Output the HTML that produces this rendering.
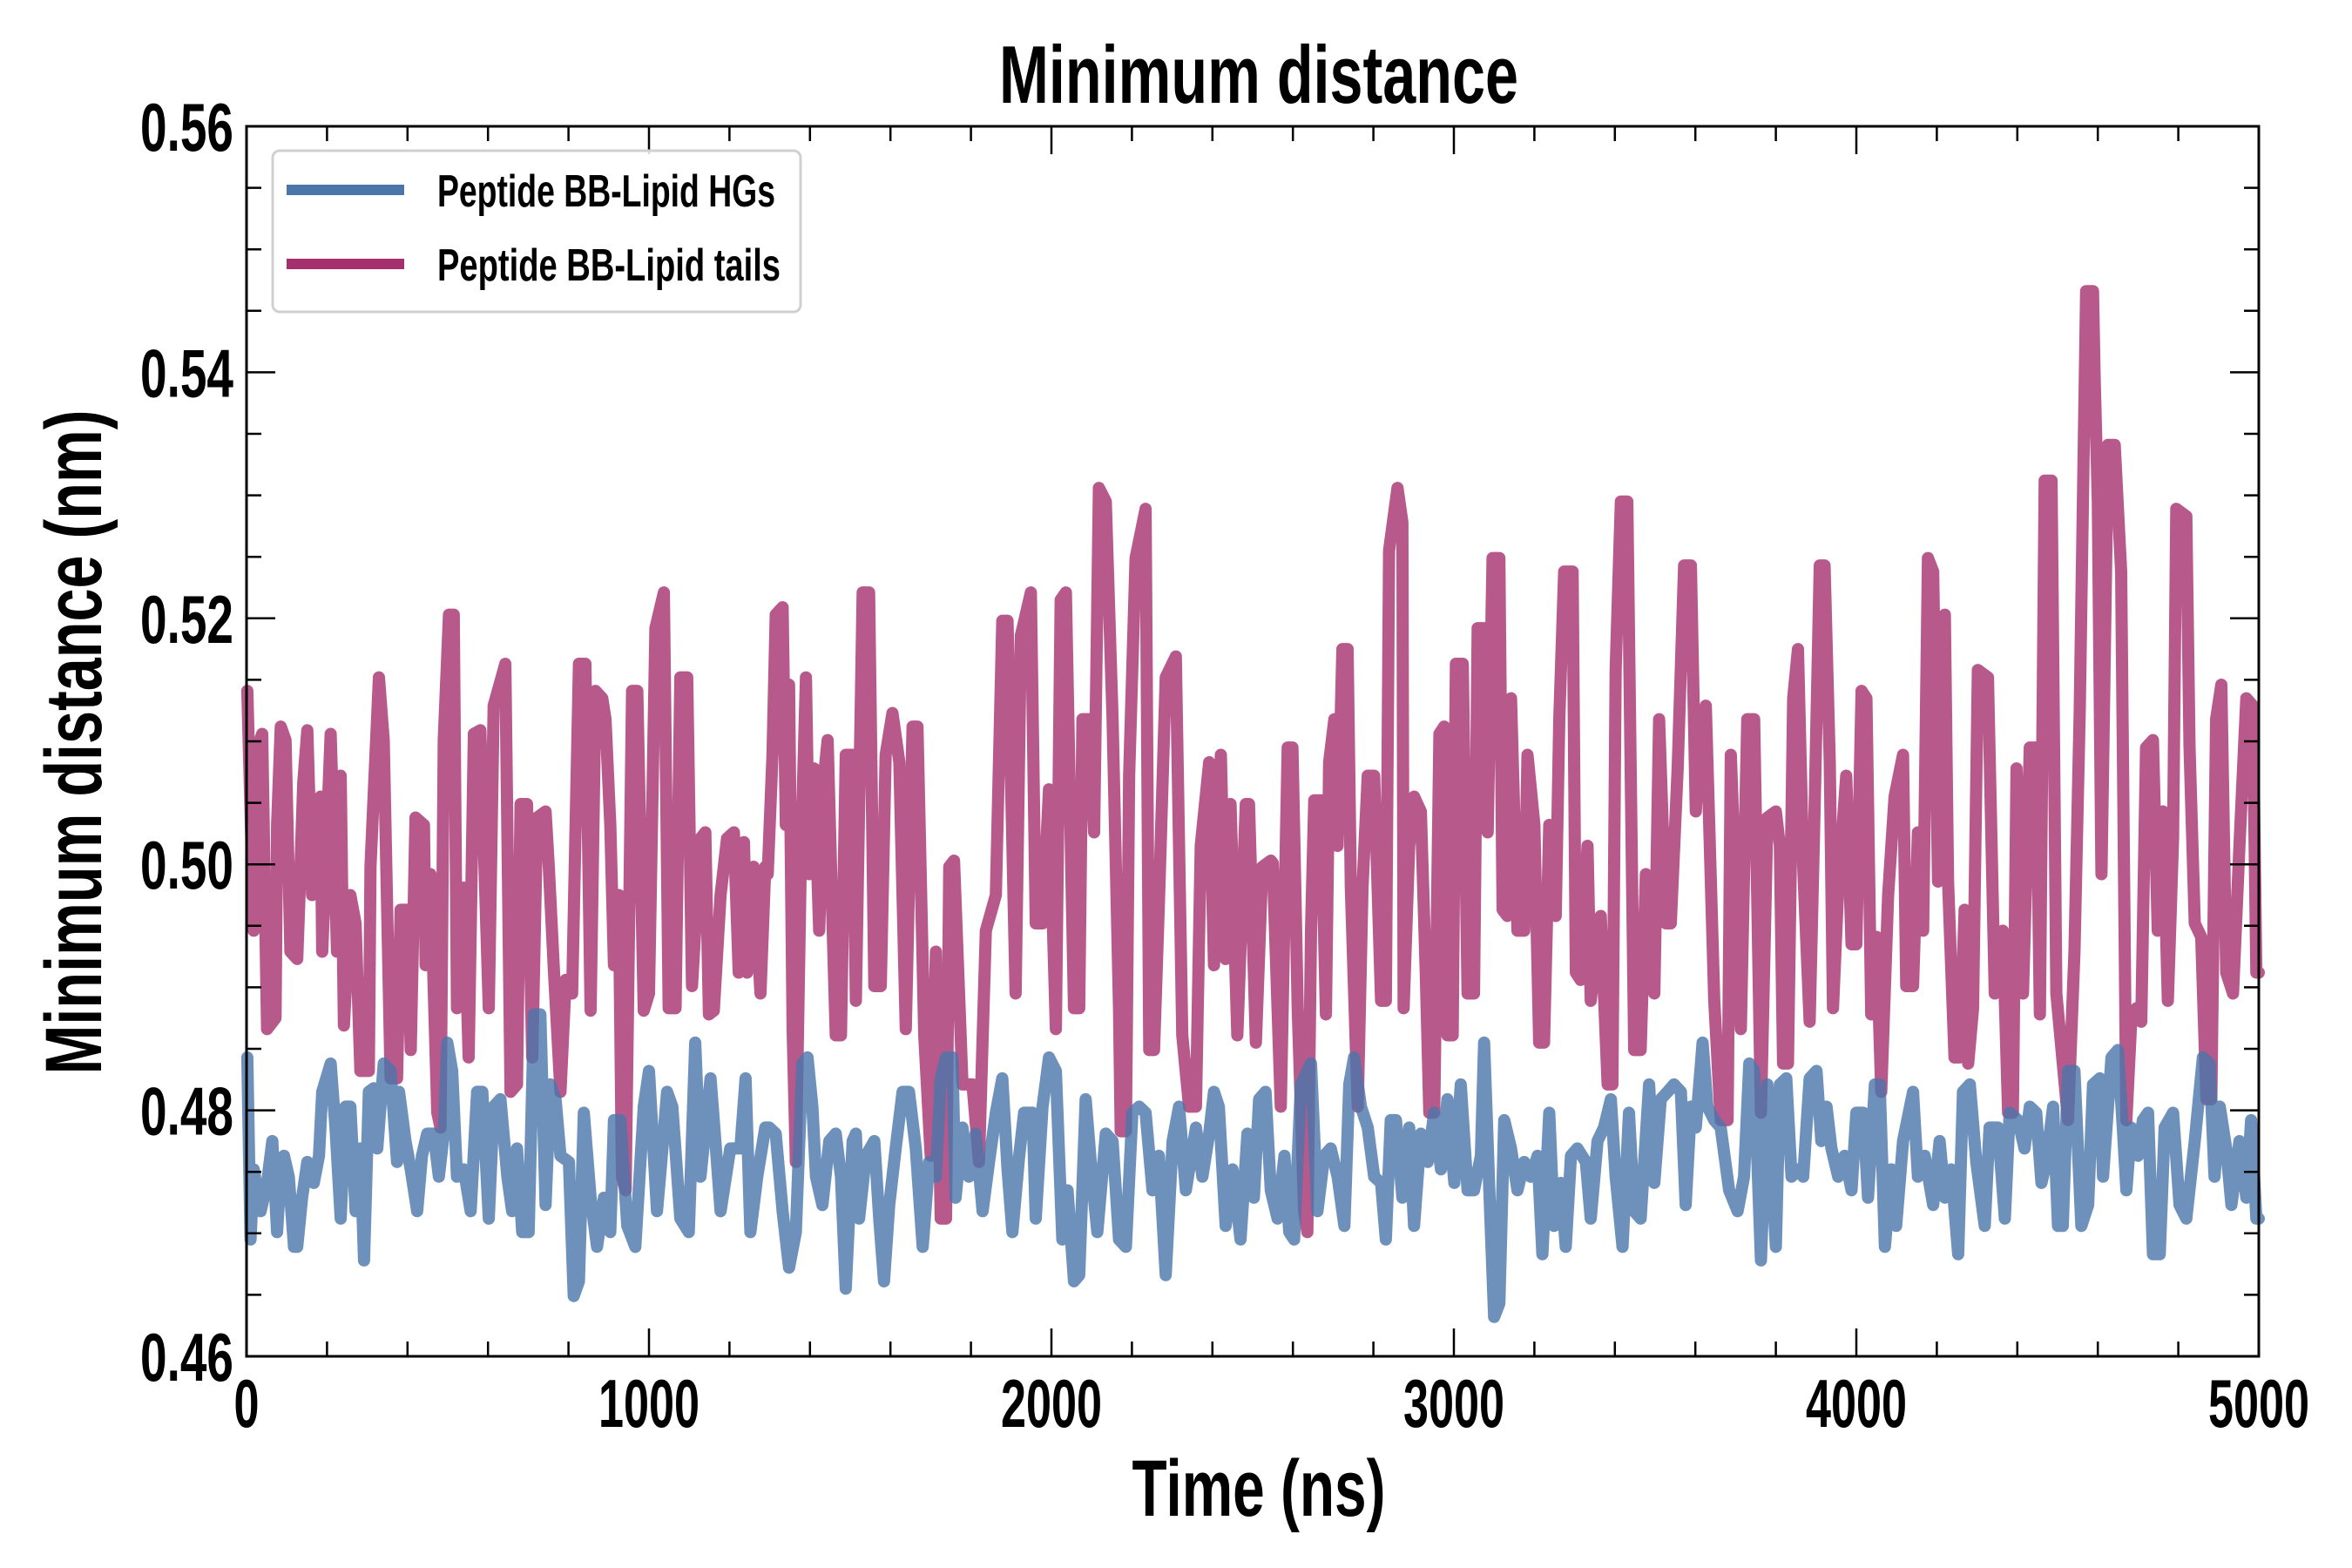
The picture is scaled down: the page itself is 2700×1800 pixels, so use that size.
<!DOCTYPE html>
<html><head><meta charset="utf-8">
<style>
html,body{margin:0;padding:0;background:#fff;}
svg{display:block;}
text{font-family:"Liberation Sans Narrow","Liberation Sans",sans-serif;font-weight:bold;fill:#000;}
</style></head>
<body>
<svg id="chart" xmlns="http://www.w3.org/2000/svg" width="2700" height="1800" viewBox="0 0 2700 1800">
<rect x="0" y="0" width="2700" height="1800" fill="#fff"/>
<g id="series"></g>
<g id="ticks"></g>
<rect x="283" y="145" width="2310" height="1412" fill="none" stroke="#000" stroke-width="3"/>
<text x="1445" y="118" font-size="94" text-anchor="middle" textLength="596" lengthAdjust="spacingAndGlyphs">Minimum distance</text>
<text x="1445" y="1740" font-size="92" text-anchor="middle" textLength="291" lengthAdjust="spacingAndGlyphs">Time (ns)</text>
<text transform="translate(116,852) rotate(-90)" font-size="92" text-anchor="middle" textLength="763" lengthAdjust="spacingAndGlyphs">Minimum distance (nm)</text>
<g>
<rect x="313" y="173" width="606" height="185" rx="8" fill="#fff" fill-opacity="0.85" stroke="#d0d0d0" stroke-width="3"/>
<line x1="329" y1="218" x2="464" y2="218" stroke="#4a76aa" stroke-width="12"/>
<line x1="329" y1="303" x2="464" y2="303" stroke="#a6306f" stroke-width="12"/>
<text x="502" y="237" font-size="52" textLength="388" lengthAdjust="spacingAndGlyphs">Peptide BB-Lipid HGs</text>
<text x="502" y="322" font-size="52" textLength="394" lengthAdjust="spacingAndGlyphs">Peptide BB-Lipid tails</text>
</g>
</svg>
<script>
const tailsTime=[2,18,27,39,51,72,76,85,97,109,126,133,141,151,163,184,188,209,225,234,242,258,271,283,304,308,329,341,358,374,383,399,408,420,441,445,457,474,482,490,503,515,523,540,552,565,581,602,614,643,656,672,681,697,710,722,743,751,764,780,793,809,826,842,855,867,884,892,904,913,925,933,942,958,971,987,1000,1016,1037,1049,1066,1078,1095,1107,1128,1140,1149,1161,1178,1194,1211,1223,1236,1244,1260,1277,1289,
1295,1307,1315,1332,1340,1348,1357,1365,1377,1390,1398,1410,1423,1435,1444,1456,1464,1477,1489,1506,1514,1531,1547,1560,1576,1588,1605,1622,1638,1655,1667,1684,1700,1713,1725,1738,1746,1758,1779,1804,1820,1837,1862,1878,1891,1911,1924,1949,1961,1978,1994,2011,2023,2036,2056,2069,2077,2094,2106,2118,2135,2152,2168,2172,2185,2193,2209,2234,2243,2255,2267,2284,2309,2325,2342,2359,2371,2392,2404,2421,2433,2445,2462,2483,2491,2508,2524,2545,
2550,2570,2587,2599,2612,2628,2636,2645,2653,2670,2682,2690,2703,2711,2723,2736,2744,2761,2773,2786,2802,2819,2831,2839,2860,2872,2875,2889,2901,2918,2930,2939,2951,2964,2976,2984,2997,3005,3022,3034,3050,3059,3075,3084,3096,3113,3121,3133,3142,3158,3175,3183,3200,3212,3224,3237,3253,3262,3274,3295,3303,3315,3332,3340,3353,3365,3382,3394,3402,3415,3431,3448,3464,3477,3489,3498,3510,3527,3539,3556,3572,3589,3601,3614,3626,3647,3663,3680,3688,3713,3729,3746,3763,3779,3800,
3810,3818,3830,3843,3855,3868,3884,3897,3909,3921,3934,3942,3955,3975,3988,4000,4013,4025,4037,4050,4062,4079,4095,4116,4124,4141,4153,4166,4178,4191,4203,4220,4228,4244,4257,4269,4278,4290,4302,4327,4344,4364,4377,4389,4398,4414,4431,4447,4456,4468,4485,4497,4513,4526,4542,4555,4571,4588,4592,4600,4609,4625,4642,4658,4671,4683,4696,4708,4720,4737,4749,4762,4774,4787,4795,4820,4828,4841,4857,4870,4882,4894,4907,4919,4936,4952,4969,4985,4994,5000];
const tailsValue=[.5141,.4946,.5095,.5106,.4866,.4875,.5032,.5112,.5101,.4929,.4923,.4986,.5066,.5109,.4975,.5055,.4929,.5106,.4929,.5072,.4869,.4975,.4952,.4832,.4832,.4998,.5152,.5101,.4826,.4826,.4963,.4963,.4849,.5038,.5032,.4918,.4992,.4798,.4786,.5101,.5203,.5203,.4883,.4981,.4843,.5106,.5109,.4883,.5129,.5163,.4815,.4821,.5049,.5049,.4843,.5038,.5043,.4998,.4912,.4815,.4906,.4895,.5163,.5163,.4881,.5141,.5135,.5118,.5032,.4918,.4975,.4746,.4735,.5141,.5141,.4881,.4895,.5192,.5221,.4883,.4883,.5152,.5152,.4901,.5021,.5026,.4878,.4881,.4975,.5021,.5026,.4912,.5018,.4912,.4998,.4895,.4998,
.4992,.5089,.5203,.5209,.5032,.5146,.4866,.4758,.4998,.5152,.4992,.5078,.4946,.5072,.5101,.4952,.4861,.4861,.5089,.5089,.4889,.5221,.5221,.4901,.4901,.5089,.5123,.5083,.4866,.5112,.5112,.4861,.4763,.4929,.4712,.4712,.4998,.5003,.4821,.4821,.4758,.4946,.4975,.5198,.5198,.4895,.5186,.5221,.4952,.4952,.5061,.4866,.5215,.5221,.4883,.4883,.5118,.5118,.5026,.5306,.5295,.5118,.4883,.4783,.4783,.5072,.5249,.5289,.4849,.4849,.4969,.5152,.5169,.4861,.4803,.4803,.5015,.5083,.4918,.5089,.4923,.5049,.4861,.5049,.5049,.4855,.4998,.5003,
.5001,.4803,.5095,.5095,.4883,.4718,.4701,.4946,.5052,.5052,.4878,.5083,.5118,.5015,.5175,.5175,.4981,.4803,.4981,.5072,.5072,.4889,.4889,.5255,.5306,.5278,.4883,.5015,.5055,.5043,.4912,.4798,.4798,.5106,.5112,.4861,.4861,.5163,.5163,.4895,.4895,.5192,.5192,.5026,.5249,.5249,.4963,.4958,.5135,.4946,.4946,.5089,.5032,.4855,.4855,.5032,.4958,.5118,.5238,.5238,.4912,.4906,.5015,.4889,.4929,.4958,.4821,.4821,.5158,.5295,.5295,.4849,.4849,.4992,.4918,.4895,.5118,.4952,.4952,.5078,.5243,.5243,.5043,.5118,.5129,.4889,.4792,.4792,.5089,.4866,.5118,.5118,.4798,.5038,.5043,
.5015,.4838,.4838,.5135,.5175,.4998,.4872,.5055,.5243,.5243,.5083,.4883,.4981,.5072,.4935,.4935,.5141,.5135,.4878,.4941,.4815,.4975,.5055,.5089,.4901,.4901,.5026,.4946,.5249,.5238,.4986,.5203,.4986,.4843,.4843,.4963,.4838,.4883,.5158,.5152,.4895,.4946,.4798,.4798,.5078,.4895,.5095,.5095,.4878,.5312,.5312,.4895,.4838,.4792,.4929,.5123,.5466,.5466,.5398,.5295,.4992,.5341,.5341,.5238,.4792,.4872,.4883,.4872,.5095,.5101,.4946,.5043,.4889,.5021,.5289,.5283,.5095,.4952,.4941,.4809,.4809,.5118,.5146,.4912,.4895,.5015,.5135,.5129,.4912,.4912];

const hgsTime=[2,10,18,35,51,64,76,85,93,105,118,126,138,151,167,180,188,209,221,234,246,258,271,283,292,304,316,325,341,358,374,379,395,408,424,436,449,465,478,490,499,511,523,540,557,573,586,602,614,631,648,660,672,685,701,714,730,743,755,768,780,801,813,826,838,855,871,888,904,913,929,946,966,987,1000,1020,1029,1045,1058,1078,1099,1115,1128,1153,1165,1178,1202,1227,1240,1252,1269,1289,
1299,1315,1332,1348,1365,1381,1394,1406,1415,1431,1448,1464,1477,1489,1506,1514,1522,1539,1560,1572,1584,1597,1613,1630,1646,1663,1680,1696,1713,1725,1738,1754,1762,1779,1795,1812,1829,1845,1862,1878,1891,1903,1920,1932,1953,1961,1978,1994,2011,2027,2040,2056,2069,2085,2102,2114,2135,2152,2168,2185,2201,2218,2234,2251,2267,2284,2301,2317,2334,2359,2375,2392,2404,2416,2433,2450,2470,2487,2503,2516,2532,2545,
2562,2579,2591,2603,2620,2645,2661,2678,2694,2711,2728,2740,2752,2769,2786,2802,2819,2831,2843,2856,2872,2889,2901,2918,2935,2951,2968,2984,3001,3017,3034,3050,3067,3075,3088,3100,3113,3125,3142,3158,3175,3191,3208,3220,3237,3249,3266,3278,3291,3307,3328,3340,3357,3373,3390,3402,3419,3435,3448,3464,3485,3498,3514,3531,3547,3564,3576,3589,3601,3618,3630,3647,3663,3684,3705,3721,3734,3746,3763,3779,3800,
3810,3826,3839,3855,3868,3884,3901,3913,3926,3938,3955,3971,3988,4000,4017,4029,4046,4058,4071,4087,4099,4116,4141,4153,4170,4191,4207,4220,4236,4253,4265,4282,4298,4319,4331,4352,4369,4381,4402,4418,4431,4447,4460,4472,4489,4501,4513,4526,4542,4559,4576,4588,4605,4613,4634,4650,4663,4671,4683,4700,4712,4725,4737,4754,4766,4787,4803,4820,4841,4861,4878,4890,4903,4919,4932,4952,4969,4981,4994,5000];
const hgsValue=[.4843,.4695,.4752,.4718,.4741,.4775,.4701,.4752,.4763,.4746,.4689,.4689,.4729,.4758,.4741,.4763,.4815,.4838,.4786,.4712,.4803,.4803,.4718,.4769,.4678,.4815,.4818,.4769,.4838,.4832,.4758,.4815,.4775,.4752,.4718,.4763,.4781,.4781,.4746,.4781,.4855,.4832,.4746,.4752,.4718,.4815,.4815,.4712,.4803,.4809,.4746,.4718,.4769,.4701,.4701,.4878,.4878,.4723,.4821,.4809,.4763,.4758,.4649,.4661,.4798,.4729,.4689,.4729,.4701,.4792,.4792,.4706,.4689,.4803,.4832,.4718,.4752,.4815,.4803,.4712,.4701,.4855,.4746,.4826,.4775,.4718,.4769,.4769,.4826,.4701,.4746,.4786,
.4786,.4781,.4718,.4672,.4701,.4838,.4843,.4803,.4746,.4723,.4775,.4781,.4746,.4655,.4775,.4781,.4712,.4763,.4775,.4712,.4661,.4723,.4769,.4815,.4815,.4769,.4689,.4758,.4746,.4826,.4843,.4843,.4729,.4786,.4746,.4781,.4718,.4758,.4798,.4826,.4752,.4701,.4763,.4798,.4798,.4712,.4803,.4843,.4832,.4695,.4735,.4661,.4666,.4809,.4741,.4701,.4781,.4775,.4695,.4689,.4798,.4803,.4798,.4735,.4763,.4666,.4775,.4803,.4735,.4786,.4746,.4781,.4815,.4803,.4706,.4752,.4695,.4781,.4729,.4809,.4815,.4735,
.4712,.4763,.4701,.4695,.4821,.4838,.4718,.4763,.4769,.4746,.4706,.4821,.4843,.4803,.4786,.4746,.4741,.4695,.4792,.4792,.4729,.4786,.4706,.4781,.4758,.4798,.4752,.4809,.4741,.4821,.4735,.4735,.4763,.4855,.4735,.4632,.4643,.4792,.4769,.4735,.4758,.4746,.4763,.4683,.4798,.4706,.4741,.4689,.4763,.4769,.4758,.4712,.4775,.4786,.4809,.4746,.4689,.4798,.4718,.4712,.4821,.4741,.4809,.4815,.4821,.4815,.4723,.4803,.4786,.4855,.4803,.4792,.4786,.4735,.4718,.4746,.4838,.4832,.4678,.4821,.4689,
.4821,.4826,.4746,.4752,.4746,.4826,.4832,.4775,.4803,.4769,.4746,.4763,.4735,.4798,.4798,.4729,.4821,.4821,.4689,.4752,.4706,.4775,.4815,.4746,.4763,.4723,.4775,.4729,.4752,.4683,.4815,.4821,.4758,.4706,.4786,.4786,.4712,.4798,.4792,.4769,.4803,.4798,.4741,.4758,.4803,.4706,.4706,.4832,.4832,.4706,.4723,.4821,.4826,.4746,.4843,.4849,.4781,.4735,.4786,.4763,.4792,.4798,.4683,.4683,.4786,.4798,.4723,.4712,.4775,.4843,.4838,.4746,.4803,.4769,.4723,.4775,.4729,.4792,.4712,.4712];

const xTickMajor=[0,1000,2000,3000,4000,5000];
const yTickMajor=[0.46,0.48,0.50,0.52,0.54,0.56];
const yTickLabels=["0.46","0.48","0.50","0.52","0.54","0.56"];

const NS="http://www.w3.org/2000/svg";
const X0=283,X1=2593,Y0=1557,Y1=145;
const xMin=0,xMax=5000,yMin=0.46,yMax=0.56;
function xs(t){return X0+(t-xMin)/(xMax-xMin)*(X1-X0);}
function ys(v){return Y0-(v-yMin)/(yMax-yMin)*(Y0-Y1);}
const svg=document.getElementById('chart');
const gS=document.getElementById('series');
const gT=document.getElementById('ticks');

function drawSeries(times,vals,color,name){
  const p=document.createElementNS(NS,'polyline');
  p.setAttribute('points',times.map((t,i)=>xs(t).toFixed(1)+','+ys(vals[i]).toFixed(1)).join(' '));
  p.setAttribute('fill','none');
  p.setAttribute('stroke',color);
  p.setAttribute('stroke-opacity','0.8');
  p.setAttribute('stroke-width','14');
  p.setAttribute('stroke-linejoin','round');
  p.setAttribute('stroke-linecap','round');
  
  
  gS.appendChild(p);
}
drawSeries(tailsTime,tailsValue,'#a6306f','line-lipid-tails');
drawSeries(hgsTime,hgsValue,'#4a76aa','line-lipid-hgs');

function line(x1,y1,x2,y2,name){
  const l=document.createElementNS(NS,'line');
  l.setAttribute('x1',x1);l.setAttribute('y1',y1);l.setAttribute('x2',x2);l.setAttribute('y2',y2);
  l.setAttribute('stroke','#000');l.setAttribute('stroke-width','2.5');
  
  
  gT.appendChild(l);
}
function label(x,y,txt,anchor,len,name){
  const t=document.createElementNS(NS,'text');
  t.setAttribute('x',x);t.setAttribute('y',y);t.setAttribute('font-size','78');
  t.setAttribute('text-anchor',anchor);t.textContent=txt;
  if(len){t.setAttribute('textLength',len);t.setAttribute('lengthAdjust','spacingAndGlyphs');}
  
  
  svg.appendChild(t);
}
for(let t=0;t<=5000;t+=200){
  const major=t%1000===0, L=major?32:17, x=xs(t);
  line(x,Y0,x,Y0-L,'x-tick');
  line(x,Y1,x,Y1+L,'x-tick-top');
}
xTickMajor.forEach(t=>label(xs(t),1638,String(t),'middle',String(t).length*29,'x-tick-label'));
for(let k=0;k<=20;k++){
  const v=yMin+k*0.005, major=k%4===0, L=major?33:17, y=ys(v);
  line(X0,y,X0+L,y,'y-tick');
  line(X1,y,X1-L,y,'y-tick-right');
}
yTickMajor.forEach((v,i)=>label(268,ys(v)+28,yTickLabels[i],'end',107,'y-tick-label'));
</script>
</body></html>
